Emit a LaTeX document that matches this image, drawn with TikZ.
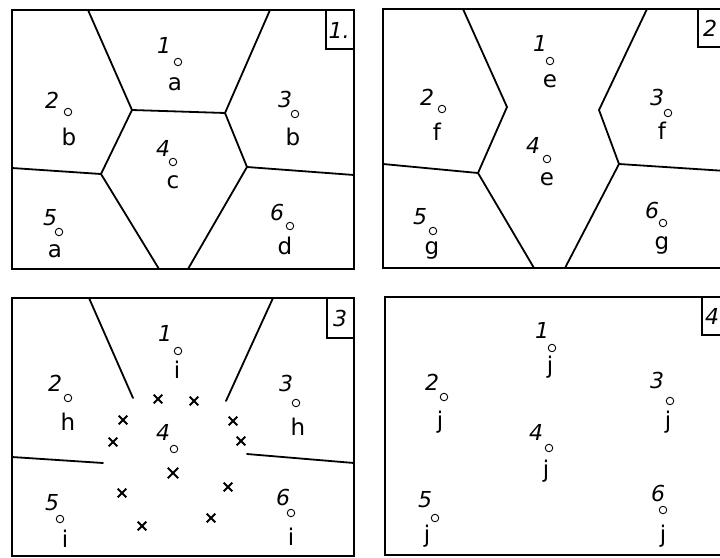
\documentclass[tikz,border=0pt]{standalone}
\usepackage{fontspec}
\setmainfont{DejaVu Sans}
\begin{document}
\begin{tikzpicture}[x=1pt,y=-1pt,
  edge/.style={line width=1.8pt, line cap=round, line join=round},
  frame/.style={line width=1.9pt},
  tagbox/.style={line width=1.4pt},
  site/.style={circle, draw, line width=0.9pt, minimum size=7.5pt, inner sep=0pt},
  num/.style={font=\fontsize{22}{22}\selectfont\itshape, inner sep=0pt},
  let/.style={font=\fontsize{23}{23}\selectfont, inner sep=0pt},
  tagtext/.style={font=\fontsize{22}{22}\selectfont\itshape, inner sep=0pt},
  cross/.style={line width=1.8pt}]
\useasboundingbox (0,0) rectangle (720,557);
\clip (0,0) rectangle (720,557);
% ---------- Panel 1 ----------
\draw[frame] (12,10) rectangle (354,269);
\draw[tagbox] (326,10) rectangle (354,49);
\node[tagtext] (t1) at (339,30) {1.};
\coordinate (p1a) at (132,110);
\coordinate (p1b) at (225,113);
\coordinate (p1c) at (101,174);
\coordinate (p1d) at (247,167);
\draw[edge] (88,10) -- (p1a) -- (p1b) -- (270,10);
\draw[edge] (p1a) -- (p1c) -- (12,168);
\draw[edge] (p1c) -- (159,269);
\draw[edge] (p1b) -- (p1d) -- (354,175);
\draw[edge] (p1d) -- (188,269);
\node[num] (a1n) at (164,45) {1};
\node[site] (a1s) at (178,62) {};
\node[let] (a1l) at (175,84) {a};
\node[num] (a2n) at (52,100) {2};
\node[site] (a2s) at (68,112) {};
\node[let] (a2l) at (69,137) {b};
\node[num] (a3n) at (285,99) {3};
\node[site] (a3s) at (295,114) {};
\node[let] (a3l) at (293,137) {b};
\node[num] (a4n) at (163,148) {4};
\node[site] (a4s) at (173,162) {};
\node[let] (a4l) at (173,182) {c};
\node[num] (a5n) at (50,218) {5};
\node[site] (a5s) at (59,232) {};
\node[let] (a5l) at (55,251) {a};
\node[num] (a6n) at (277,212) {6};
\node[site] (a6s) at (290,226) {};
\node[let] (a6l) at (285,246) {d};
% ---------- Panel 2 ----------
\draw[frame] (383,9) rectangle (726,268);
\draw[tagbox] (698,9) rectangle (726,47);
\node[tagtext] (t2) at (710,28) {2};
\coordinate (p2a) at (507,107);
\coordinate (p2b) at (478,173);
\coordinate (p2c) at (599,110);
\coordinate (p2d) at (619,164);
\draw[edge] (463,9) -- (p2a) -- (p2b) -- (383,164);
\draw[edge] (p2b) -- (534,268);
\draw[edge] (647,9) -- (p2c) -- (p2d) -- (726,171);
\draw[edge] (p2d) -- (565,268);
\node[num] (b1n) at (540,43) {1};
\node[site] (b1s) at (550,61) {};
\node[let] (b1l) at (550,81) {e};
\node[num] (b2n) at (427,97) {2};
\node[site] (b2s) at (442,109) {};
\node[let] (b2l) at (437,132) {f};
\node[num] (b3n) at (657,97) {3};
\node[site] (b3s) at (668,113) {};
\node[let] (b3l) at (662,131) {f};
\node[num] (b4n) at (533,145) {4};
\node[site] (b4s) at (547,159) {};
\node[let] (b4l) at (547,179) {e};
\node[num] (b5n) at (420,217) {5};
\node[site] (b5s) at (433,231) {};
\node[let] (b5l) at (432,250) {g};
\node[num] (b6n) at (652,210) {6};
\node[site] (b6s) at (663,223) {};
\node[let] (b6l) at (662,245) {g};
% ---------- Panel 3 ----------
\draw[frame] (12,298) rectangle (354,556);
\draw[tagbox] (327,298) rectangle (354,338);
\node[tagtext] (t3) at (340,318) {3};
\draw[edge] (89,298) -- (133,398);
\draw[edge] (273,298) -- (226,401);
\draw[edge] (12,457) -- (103,463);
\draw[edge] (247,454) -- (354,463);
\foreach \cx/\cy/\s in {158/399/4.3, 194/401/4.3, 123/420/4.3, 113/442/4.3, 233/421/4.3, 241/441/4.3, 173/473/5.2, 122/493/4.3, 228/487/4.3, 142/526/4.3, 211/518/4.3}
  \draw[cross] (\cx-\s,\cy-\s) -- (\cx+\s,\cy+\s) (\cx-\s,\cy+\s) -- (\cx+\s,\cy-\s);
\node[num] (c1n) at (165,333) {1};
\node[site] (c1s) at (178,351) {};
\node[let] (c1l) at (177,370) {i};
\node[num] (c2n) at (55,383) {2};
\node[site] (c2s) at (68,398) {};
\node[let] (c2l) at (68,422) {h};
\node[num] (c3n) at (286,383) {3};
\node[site] (c3s) at (296,403) {};
\node[let] (c3l) at (298,427) {h};
\node[num] (c4n) at (163,432) {4};
\node[site] (c4s) at (174,449) {};
\node[num] (c5n) at (52,503) {5};
\node[site] (c5s) at (60,519) {};
\node[let] (c5l) at (65,539) {i};
\node[num] (c6n) at (283,497) {6};
\node[site] (c6s) at (291,513) {};
\node[let] (c6l) at (291,537) {i};
% ---------- Panel 4 ----------
\draw[frame] (385,297) rectangle (728,555);
\draw[tagbox] (702,297) rectangle (728,335);
\node[tagtext] (t4) at (712,316) {4};
\node[num] (d1n) at (542,330) {1};
\node[site] (d1s) at (552,348) {};
\node[let] (d1l) at (550,367) {j};
\node[num] (d2n) at (432,382) {2};
\node[site] (d2s) at (444,397) {};
\node[let] (d2l) at (440,422) {j};
\node[num] (d3n) at (657,380) {3};
\node[site] (d3s) at (670,401) {};
\node[let] (d3l) at (668,422) {j};
\node[num] (d4n) at (536,432) {4};
\node[site] (d4s) at (549,448) {};
\node[let] (d4l) at (546,471) {j};
\node[num] (d5n) at (425,500) {5};
\node[site] (d5s) at (435,518) {};
\node[let] (d5l) at (427,536) {j};
\node[num] (d6n) at (658,493) {6};
\node[site] (d6s) at (663,510) {};
\node[let] (d6l) at (663,536) {j};
\end{tikzpicture}
\end{document}
